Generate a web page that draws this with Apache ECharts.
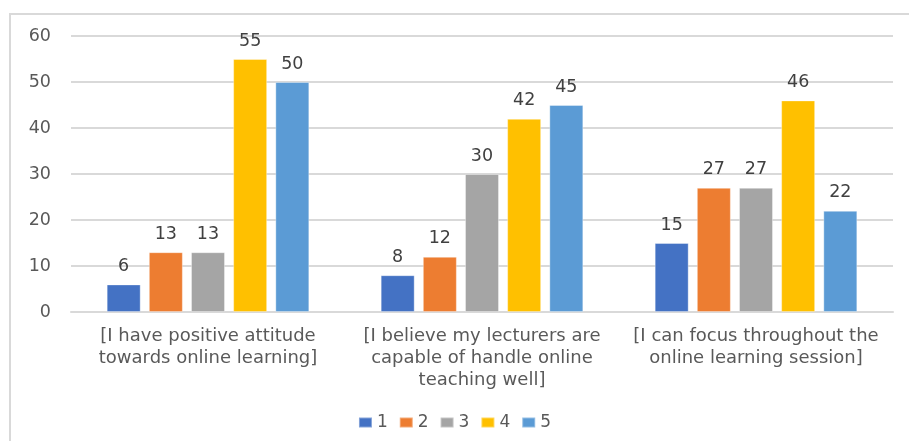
<!DOCTYPE html>
<html><head><meta charset="utf-8">
<script src="https://cdn.jsdelivr.net/npm/echarts@6/dist/echarts.min.js"></script>
<style>html,body{margin:0;padding:0;background:#fff}#c{width:909px;height:441px}</style>
</head><body><div id="c"></div>
<script>
const categories = ["[I have positive attitude\ntowards online learning]", "[I believe my lecturers are\ncapable of handle online\nteaching well]", "[I can focus throughout the\nonline learning session]"];
const seriesNames = ["1", "2", "3", "4", "5"];
const s1 = [6, 8, 15];
const s2 = [13, 12, 27];
const s3 = [13, 30, 27];
const s4 = [55, 42, 46];
const s5 = [50, 45, 22];
const yTicks = [0, 10, 20, 30, 40, 50, 60];
const colors = ["#4472C4", "#ED7D31", "#A5A5A5", "#FFC000", "#5B9BD5"];
const values = [s1, s2, s3, s4, s5];
const font = "'DejaVu Sans', sans-serif";
const chart = echarts.init(document.getElementById('c'), null, {renderer: 'canvas'});
chart.setOption({
  animation: false,
  graphic: [{type: 'rect', shape: {x: 10, y: 14, width: 1000, height: 1000}, style: {fill: 'none', stroke: '#d9d9d9', lineWidth: 2}, silent: true}],
  grid: {left: 71, right: 16, top: 36, bottom: 129, containLabel: false},
  legend: {data: seriesNames, top: 409, left: 'center', itemWidth: 13, itemHeight: 10, itemGap: 11, icon: 'rect',
    textStyle: {fontFamily: font, fontSize: 17, color: '#595959'}},
  xAxis: {type: 'category', data: categories,
    axisLine: {lineStyle: {color: '#d9d9d9', width: 2}}, axisTick: {show: false},
    axisLabel: {fontFamily: font, fontSize: 18, color: '#595959', lineHeight: 22, margin: 13, interval: 0}},
  yAxis: {type: 'value', min: 0, max: 60, interval: 10,
    axisLine: {show: false}, axisTick: {show: false},
    splitLine: {lineStyle: {color: '#d9d9d9', width: 2}},
    axisLabel: {fontFamily: font, fontSize: 17.5, color: '#595959', margin: 20, formatter: v => yTicks.includes(v) ? String(v) : ''}},
  series: seriesNames.map((n, i) => ({
    name: n, type: 'bar', data: values[i], barWidth: 34, barGap: '24%',
    itemStyle: {color: colors[i], borderColor: 'rgba(255,255,255,0.35)', borderWidth: 1},
    label: {show: true, position: 'top', distance: 9, fontFamily: font, fontSize: 17.5, color: '#404040'}
  }))
});
</script></body></html>
